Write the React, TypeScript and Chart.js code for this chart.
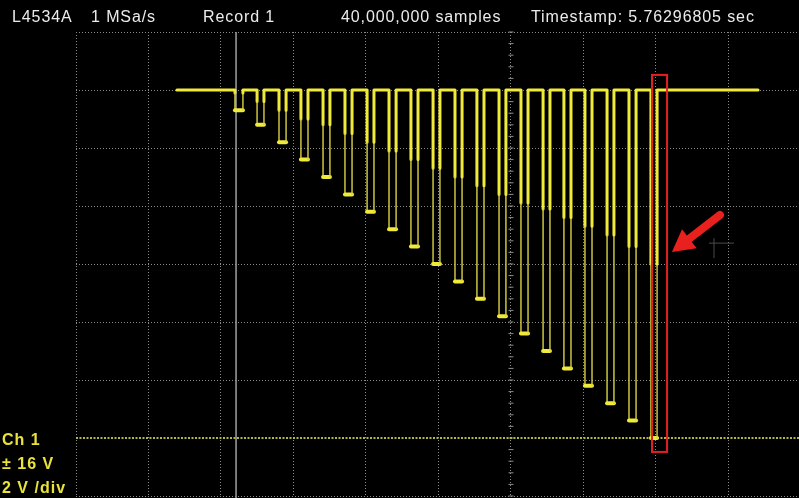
import { useEffect, useRef } from "react";
import { Chart, registerables } from "chart.js";
import type { Plugin } from "chart.js";

Chart.register(...registerables);

// time axis in seconds (4 s/div), voltage in volts (2 V/div), 0 V = channel marker
const traceStart = 5.57;
const traceEnd = 37.63;
const highLevel = 12;
const pulseFall = [8.77, 9.99, 11.2, 12.41, 13.63, 14.84, 16.06, 17.27, 18.48, 19.7, 20.91, 22.12, 23.34, 24.55, 25.77, 26.92, 28.08, 29.3, 30.51, 31.72];
const pulseRise = [9.21, 10.37, 11.59, 12.8, 14.01, 15.23, 16.44, 17.66, 18.87, 20.08, 21.3, 22.51, 23.72, 24.94, 26.15, 27.31, 28.47, 29.68, 30.9, 32.06];
const pulseLow = [11.3, 10.8, 10.2, 9.6, 9.0, 8.4, 7.8, 7.2, 6.6, 6.0, 5.4, 4.8, 4.2, 3.6, 3.0, 2.4, 1.8, 1.2, 0.6, 0.0];
const pulseKnee = [11.9, 11.6, 11.3, 11.0, 10.8, 10.5, 10.2, 9.9, 9.6, 9.3, 9.0, 8.7, 8.4, 8.1, 7.9, 7.6, 7.3, 7.0, 6.6, 6.0];

const xGrid = [0, 4, 8, 12, 16, 20, 24, 28, 32, 36];
const yGrid = [-2, 2, 4, 6, 8, 10, 12, 14];
const groundLevel = 0;
const centerTime = 24;
const triggerTime = 8.83;
const boxTime = [31.78, 32.61];
const boxVolt = [-0.48, 12.52];
const arrowTail = [35.53, 7.69];
const arrowTip = [32.88, 6.41];
const cursorAt = [35.2, 6.72];

const headerText = ["L4534A", "1 MSa/s", "Record 1", "40,000,000 samples", "Timestamp: 5.76296805 sec"];
const headerLeft = [12, 91, 203, 341, 531];
const channelText = ["Ch 1", "± 16 V", "2 V /div"];

const decorations: Plugin<"line"> = {
  id: "scopeDecorations",
  beforeDatasetsDraw(chart) {
    const { ctx, chartArea, scales } = chart;
    const xs = scales.x;
    const ys = scales.y;
    ctx.save();

    // center axis minor ticks
    const cx = xs.getPixelForValue(centerTime);
    ctx.strokeStyle = "#8c8c8c";
    ctx.lineWidth = 1;
    for (let v = -2; v <= 14.001; v += 0.4) {
      const y = ys.getPixelForValue(v);
      ctx.beginPath();
      ctx.moveTo(cx - 2.5, y);
      ctx.lineTo(cx + 2.5, y);
      ctx.stroke();
    }

    // trigger position line
    const tx = xs.getPixelForValue(triggerTime);
    ctx.strokeStyle = "#a0a0a0";
    ctx.lineWidth = 1.5;
    ctx.beginPath();
    ctx.moveTo(tx, chartArea.top);
    ctx.lineTo(tx, chart.height);
    ctx.stroke();

    // channel ground marker
    const gy = ys.getPixelForValue(groundLevel);
    ctx.strokeStyle = "#b8b840";
    ctx.lineWidth = 2;
    ctx.setLineDash([2, 1.5]);
    ctx.beginPath();
    ctx.moveTo(chartArea.left, gy);
    ctx.lineTo(chartArea.right, gy);
    ctx.stroke();
    ctx.setLineDash([]);

    // faint cursor cross
    const qx = xs.getPixelForValue(cursorAt[0]);
    const qy = ys.getPixelForValue(cursorAt[1]);
    ctx.strokeStyle = "#4a4a4a";
    ctx.lineWidth = 1;
    ctx.beginPath();
    ctx.moveTo(qx, qy - 5);
    ctx.lineTo(qx, qy + 15);
    ctx.moveTo(qx - 5, qy);
    ctx.lineTo(qx + 20, qy);
    ctx.stroke();
    ctx.restore();
  },
  afterDatasetsDraw(chart) {
    const { ctx, scales } = chart;
    const xs = scales.x;
    const ys = scales.y;
    ctx.save();

    // red marker box
    const bx0 = xs.getPixelForValue(boxTime[0]);
    const bx1 = xs.getPixelForValue(boxTime[1]);
    const by0 = ys.getPixelForValue(boxVolt[1]);
    const by1 = ys.getPixelForValue(boxVolt[0]);
    ctx.strokeStyle = "#e3201f";
    ctx.lineWidth = 2;
    ctx.strokeRect(bx0, by0, bx1 - bx0, by1 - by0);

    // red arrow
    const ax = xs.getPixelForValue(arrowTail[0]);
    const ay = ys.getPixelForValue(arrowTail[1]);
    const px = xs.getPixelForValue(arrowTip[0]);
    const py = ys.getPixelForValue(arrowTip[1]);
    const len = Math.hypot(px - ax, py - ay);
    const ux = (px - ax) / len;
    const uy = (py - ay) / len;
    const nx = -uy;
    const ny = ux;
    const headLen = 22;
    const headHalf = 12;
    const bx = px - ux * headLen;
    const by = py - uy * headLen;
    ctx.strokeStyle = "#e8211e";
    ctx.fillStyle = "#e8211e";
    ctx.lineWidth = 8;
    ctx.lineCap = "round";
    ctx.beginPath();
    ctx.moveTo(ax, ay);
    ctx.lineTo(bx + ux * 2, by + uy * 2);
    ctx.stroke();
    ctx.beginPath();
    ctx.moveTo(px, py);
    ctx.lineTo(bx + nx * headHalf, by + ny * headHalf);
    ctx.lineTo(bx - nx * headHalf, by - ny * headHalf);
    ctx.closePath();
    ctx.fill();
    ctx.restore();
  },
};

export default function App() {
  const canvasRef = useRef<HTMLCanvasElement>(null);
  const chartRef = useRef<Chart<"line"> | null>(null);

  useEffect(() => {
    if (!canvasRef.current) return;
    if (chartRef.current) chartRef.current.destroy();

    const points: { x: number; y: number }[] = [{ x: traceStart, y: highLevel }];
    pulseFall.forEach((t, i) => {
      points.push(
        { x: t, y: highLevel },
        { x: t, y: pulseKnee[i] },
        { x: t, y: pulseLow[i] },
        { x: pulseRise[i], y: pulseLow[i] },
        { x: pulseRise[i], y: pulseKnee[i] },
        { x: pulseRise[i], y: highLevel }
      );
    });
    points.push({ x: traceEnd, y: highLevel });

    const kind = (k: number) => {
      if (k === 0) return "thick";
      const r = (k - 1) % 6;
      if (r === 1 || r === 3) return "thin";
      if (r === 2) return "foot";
      return "thick";
    };

    chartRef.current = new Chart(canvasRef.current, {
      type: "line",
      data: {
        datasets: [
          {
            data: points,
            borderColor: "#f0ea3a",
            borderWidth: 3,
            borderCapStyle: "round",
            borderJoinStyle: "round",
            pointRadius: 0,
            tension: 0,
            fill: false,
            segment: {
              borderWidth: (c) => {
                const k = kind(c.p0DataIndex);
                return k === "thin" ? 1.4 : k === "foot" ? 4 : 3;
              },
              borderColor: (c) => (kind(c.p0DataIndex) === "thin" ? "#d9d244" : "#f0ea3a"),
            },
          },
        ],
      },
      options: {
        responsive: true,
        maintainAspectRatio: false,
        animation: false,
        layout: { padding: { left: 76, top: 32, right: 0, bottom: 2 } },
        plugins: {
          legend: { display: false },
          tooltip: { enabled: false },
        },
        scales: {
          x: {
            type: "linear",
            min: 0,
            max: 39.89,
            afterBuildTicks: (axis) => {
              axis.ticks = xGrid.map((v) => ({ value: v }));
            },
            ticks: { display: false },
            grid: { color: "#8a8a8a", lineWidth: 1, drawTicks: false },
            border: { display: false, dash: [1, 2] },
          },
          y: {
            type: "linear",
            min: -2,
            max: 14,
            afterBuildTicks: (axis) => {
              axis.ticks = yGrid.map((v) => ({ value: v }));
            },
            ticks: { display: false },
            grid: { color: "#8a8a8a", lineWidth: 1, drawTicks: false },
            border: { display: false, dash: [1, 2] },
          },
        },
      },
      plugins: [decorations],
    });

    return () => {
      chartRef.current?.destroy();
      chartRef.current = null;
    };
  }, []);

  return (
    <div
      style={{
        position: "fixed",
        left: 0,
        top: 0,
        width: 799,
        height: 498,
        background: "#000",
        overflow: "hidden",
        fontFamily: '"Liberation Sans", Arial, sans-serif',
      }}
    >
      <div style={{ position: "absolute", left: 0, top: 0, width: 799, height: 498 }}>
        <canvas ref={canvasRef} />
      </div>
      {headerText.map((t, i) => (
        <span
          key={t}
          style={{
            position: "absolute",
            left: headerLeft[i],
            top: 9,
            fontSize: 16,
            lineHeight: "16px",
            letterSpacing: 0.9,
            color: "#ececec",
            whiteSpace: "nowrap",
          }}
        >
          {t}
        </span>
      ))}
      {channelText.map((t, i) => (
        <span
          key={t}
          style={{
            position: "absolute",
            left: 2,
            top: 432 + i * 24,
            fontSize: 16,
            lineHeight: "16px",
            fontWeight: "bold",
            letterSpacing: 1,
            color: "#e8e23a",
            whiteSpace: "nowrap",
          }}
        >
          {t}
        </span>
      ))}
    </div>
  );
}
